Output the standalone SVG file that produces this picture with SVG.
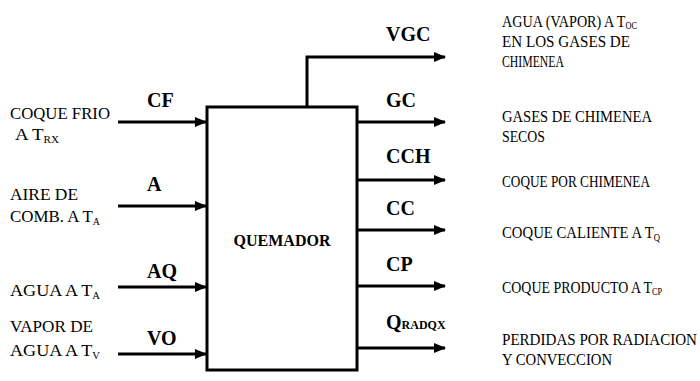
<svg xmlns="http://www.w3.org/2000/svg" width="700" height="381" viewBox="0 0 700 381">
<style>
.t{font-family:"Liberation Serif","Times New Roman",serif;font-size:17px;fill:#000}
.l{font-family:"Liberation Serif","Times New Roman",serif;font-size:20px;font-weight:bold;fill:#000}
.s{font-size:10px}
.c{fill:none;stroke:#000;stroke-width:3}
</style>
<defs>
<marker id="ah" markerWidth="4.2" markerHeight="3.4" refX="3.8" refY="1.7" orient="auto" markerUnits="strokeWidth">
<path d="M0,0 L4.2,1.7 L0,3.4 Z" fill="#000"/>
</marker>
</defs>
<rect width="700" height="381" fill="#fff"/>
<g id="quemador">
<rect x="207" y="107" width="150" height="263" fill="none" stroke="#000" stroke-width="3"/>
<text class="l" x="282" y="246" text-anchor="middle" style="font-size:16px">QUEMADOR</text>
</g>
<g id="connectors">
<path class="c" d="M118,122 H206" marker-end="url(#ah)"/>
<path class="c" d="M118,206 H206" marker-end="url(#ah)"/>
<path class="c" d="M118,287 H206" marker-end="url(#ah)"/>
<path class="c" d="M118,354 H206" marker-end="url(#ah)"/>
<path class="c" d="M307,107 V57 H445" marker-end="url(#ah)"/>
<path class="c" d="M357,122 H445" marker-end="url(#ah)"/>
<path class="c" d="M357,180 H445" marker-end="url(#ah)"/>
<path class="c" d="M357,230 H445" marker-end="url(#ah)"/>
<path class="c" d="M357,286 H445" marker-end="url(#ah)"/>
<path class="c" d="M357,348 H445" marker-end="url(#ah)"/>
</g>
<g id="in-cf">
<text class="l" x="147" y="107">CF</text>
<text class="t" x="10" y="119" textLength="100" lengthAdjust="spacingAndGlyphs">COQUE FRIO</text>
<text class="t" x="15" y="140" textLength="44" lengthAdjust="spacingAndGlyphs">A T<tspan class="s" dy="3">RX</tspan></text>
</g>
<g id="in-a">
<text class="l" x="147" y="191">A</text>
<text class="t" x="10" y="200" textLength="68" lengthAdjust="spacingAndGlyphs">AIRE DE</text>
<text class="t" x="10" y="222" textLength="90" lengthAdjust="spacingAndGlyphs">COMB. A T<tspan class="s" dy="3">A</tspan></text>
</g>
<g id="in-aq">
<text class="l" x="147" y="278">AQ</text>
<text class="t" x="10" y="296" textLength="90" lengthAdjust="spacingAndGlyphs">AGUA A T<tspan class="s" dy="3">A</tspan></text>
</g>
<g id="in-vo">
<text class="l" x="147" y="345">VO</text>
<text class="t" x="10" y="332" textLength="83" lengthAdjust="spacingAndGlyphs">VAPOR DE</text>
<text class="t" x="10" y="356" textLength="90" lengthAdjust="spacingAndGlyphs">AGUA A T<tspan class="s" dy="3">V</tspan></text>
</g>
<g id="out-vgc">
<text class="l" x="386" y="41">VGC</text>
<text class="t" x="502" y="27" textLength="135" lengthAdjust="spacingAndGlyphs">AGUA (VAPOR) A T<tspan class="s" dy="2">OC</tspan></text>
<text class="t" x="502" y="47" textLength="128" lengthAdjust="spacingAndGlyphs">EN LOS GASES DE</text>
<text class="t" x="502" y="67" textLength="62" lengthAdjust="spacingAndGlyphs">CHIMENEA</text>
</g>
<g id="out-gc">
<text class="l" x="386" y="107">GC</text>
<text class="t" x="502" y="122" textLength="150" lengthAdjust="spacingAndGlyphs">GASES DE CHIMENEA</text>
<text class="t" x="502" y="142" textLength="43" lengthAdjust="spacingAndGlyphs">SECOS</text>
</g>
<g id="out-cch">
<text class="l" x="386" y="163">CCH</text>
<text class="t" x="502" y="187" textLength="148" lengthAdjust="spacingAndGlyphs">COQUE POR CHIMENEA</text>
</g>
<g id="out-cc">
<text class="l" x="386" y="215">CC</text>
<text class="t" x="502" y="238" textLength="158" lengthAdjust="spacingAndGlyphs">COQUE CALIENTE A  T<tspan class="s" dy="3">Q</tspan></text>
</g>
<g id="out-cp">
<text class="l" x="386" y="271">CP</text>
<text class="t" x="502" y="293" textLength="160" lengthAdjust="spacingAndGlyphs">COQUE PRODUCTO A T<tspan class="s" dy="2">CP</tspan></text>
</g>
<g id="out-q">
<text class="l" x="386" y="329">Q<tspan style="font-size:12px">RADQX</tspan></text>
<text class="t" x="502" y="345" textLength="195" lengthAdjust="spacingAndGlyphs">PERDIDAS POR RADIACION</text>
<text class="t" x="502" y="365" textLength="110" lengthAdjust="spacingAndGlyphs">Y CONVECCION</text>
</g>
</svg>
